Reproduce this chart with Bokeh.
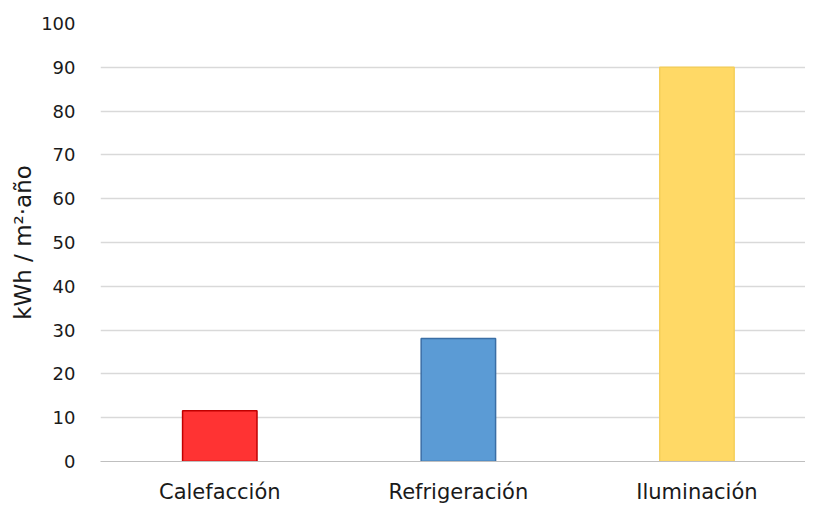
from bokeh.plotting import figure
from bokeh.models import ColumnDataSource, Range1d, FixedTicker
from bokeh.embed import file_html
from bokeh.resources import INLINE

categories = ["Calefacción", "Refrigeración", "Iluminación"]
values = [11.6, 28.1, 90.0]
fill_colors = ["#FF3333", "#5B9BD5", "#FFD966"]
line_colors = ["#C00000", "#3A6EA5", "#F5CF5A"]
y_ticks = [0, 10, 20, 30, 40, 50, 60, 70, 80, 90, 100]

positions = list(range(len(categories)))
src = ColumnDataSource(dict(x=positions, top=values, fill=fill_colors, line=line_colors))

p = figure(width=805, height=506, output_backend="svg", toolbar_location=None,
           x_range=Range1d(-0.5, 2.455), y_range=Range1d(0, 100),
           min_border_left=100, min_border_right=0, min_border_top=23, min_border_bottom=45)
p.outline_line_color = None
p.background_fill_color = "white"
p.border_fill_color = "white"

p.vbar(x="x", top="top", width=0.312, bottom=0, source=src,
       fill_color="fill", line_color="line", line_width=1.5)

font = "DejaVu Sans"
p.xaxis.ticker = FixedTicker(ticks=positions)
p.xaxis.major_label_overrides = {i: c for i, c in enumerate(categories)}
p.xaxis.major_label_text_font = font
p.xaxis.major_label_text_font_size = "21px"
p.xaxis.major_label_text_color = "#1a1a1a"
p.xaxis.major_tick_line_color = None
p.xaxis.minor_tick_line_color = None
p.xaxis.axis_line_color = "#BFBFBF"
p.xaxis.major_label_standoff = 12

p.yaxis.ticker = FixedTicker(ticks=y_ticks)
p.yaxis.major_label_text_font = font
p.yaxis.major_label_text_font_size = "18px"
p.yaxis.major_label_text_color = "#1a1a1a"
p.yaxis.major_tick_line_color = None
p.yaxis.minor_tick_line_color = None
p.yaxis.axis_line_color = None
p.yaxis.major_label_standoff = 19
p.yaxis.axis_label = "kWh / m²·año"
p.yaxis.axis_label_text_font = font
p.yaxis.axis_label_text_font_size = "23px"
p.yaxis.axis_label_text_font_style = "normal"
p.yaxis.axis_label_text_color = "#1a1a1a"
p.yaxis.axis_label_standoff = 2

p.xgrid.grid_line_color = None
p.ygrid.grid_line_color = "#D9D9D9"
p.ygrid.grid_line_width = 1.5

open("out.html", "w").write(file_html(p, INLINE))
